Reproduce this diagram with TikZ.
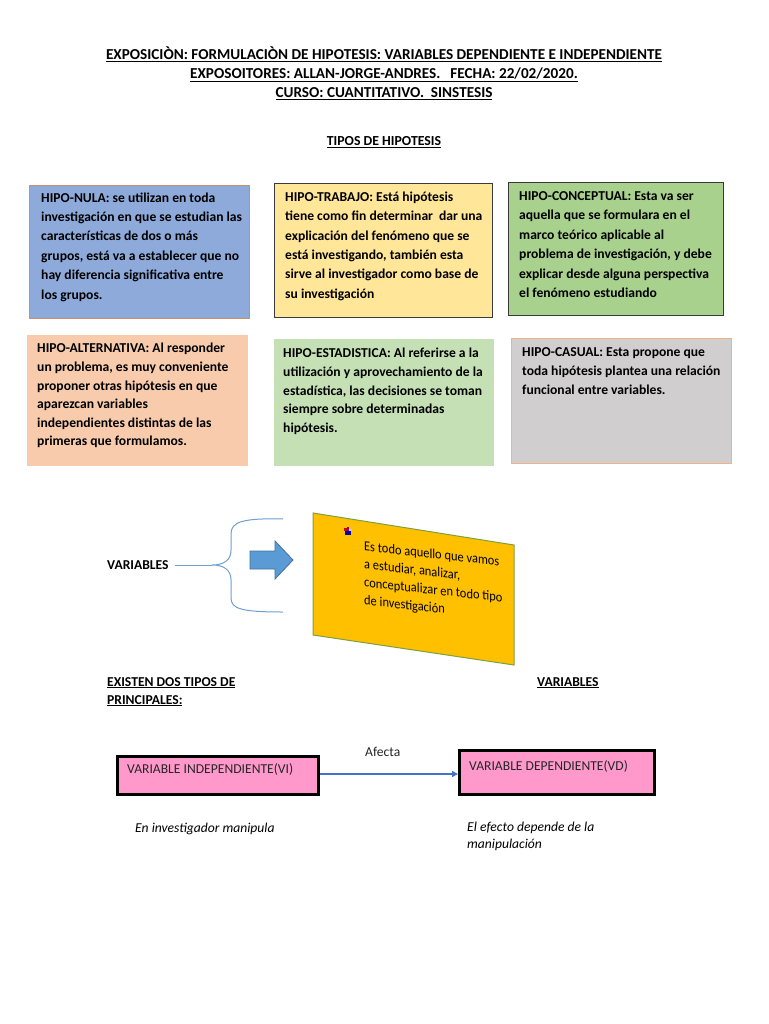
\documentclass[tikz,border=0pt]{standalone}
\usepackage{fontspec}
\setmainfont{Carlito}
\usetikzlibrary{arrows.meta}
\definecolor{cnula}{HTML}{8EAADB}
\definecolor{cnulab}{HTML}{C9906C}
\definecolor{ctrab}{HTML}{FFE699}
\definecolor{cconc}{HTML}{A9D18E}
\definecolor{cdark}{HTML}{3A3A3A}
\definecolor{calt}{HTML}{F8CBAD}
\definecolor{cest}{HTML}{C5E0B4}
\definecolor{ccas}{HTML}{D0CECE}
\definecolor{ccasb}{HTML}{F4B183}
\definecolor{cpara}{HTML}{FFC000}
\definecolor{cparab}{HTML}{7F9F3F}
\definecolor{cbrace}{HTML}{6E9FD0}
\definecolor{carrow}{HTML}{5B9BD5}
\definecolor{carrowb}{HTML}{41719C}
\definecolor{cpink}{HTML}{FF99CC}
\definecolor{cline}{HTML}{4472C4}
\begin{document}
\begin{tikzpicture}[x=1pt,y=-1pt,
  hdr/.style={anchor=base,inner sep=0,font=\fontsize{15.2}{18}\selectfont\bfseries},
  hdrsmall/.style={anchor=base,inner sep=0,font=\fontsize{13.8}{16}\selectfont\bfseries},
  hbox/.style={rectangle,anchor=north west,inner sep=0,line width=1pt},
  btext/.style={anchor=north west,inner sep=0,align=left,text=black},
  rowone/.style={font=\fontsize{13.6}{19.4}\selectfont\bfseries},
  rowtwo/.style={font=\fontsize{13.6}{18.6}\selectfont\bfseries},
  lbl/.style={anchor=base west,inner sep=0,font=\fontsize{13.6}{18}\selectfont\bfseries},
  vbox/.style={rectangle,anchor=north west,inner sep=0,fill=cpink,draw=black,line width=3pt},
  vtext/.style={anchor=base west,inner sep=0,text=black!85,font=\fontsize{13.6}{18}\selectfont},
  itext/.style={anchor=base west,inner sep=0,font=\fontsize{13.6}{17}\selectfont\itshape},
]
\useasboundingbox[fill=white] (0,0) rectangle (768,1024);

% header
\node[hdr] (h1) at (384,60) {\underline{EXPOSICIÒN: FORMULACIÒN DE HIPOTESIS: VARIABLES DEPENDIENTE E INDEPENDIENTE}};
\node[hdr] (h2) at (384,79) {\underline{EXPOSOITORES: ALLAN-JORGE-ANDRES.\hspace{10pt}FECHA: 22/02/2020.}};
\node[hdr] (h3) at (384,98) {\underline{CURSO: CUANTITATIVO.\ \ SINSTESIS}};
\node[hdrsmall] (h4) at (384,146) {\underline{TIPOS DE HIPOTESIS}};

% row 1 boxes
\node[hbox,fill=cnula,draw=cnulab,minimum width=220,minimum height=133] (nula) at (29,185) {};
\node[hbox,fill=ctrab,draw=cdark,minimum width=218,minimum height=134] (trab) at (274,183) {};
\node[hbox,fill=cconc,draw=cdark,minimum width=215,minimum height=133] (conc) at (508,182) {};
\node[btext,rowone] (tnula) at (41,188.4) {\strut HIPO-NULA: se utilizan en toda\\investigación en que se estudian las\\características de dos o más\\grupos, está va a establecer que no\\hay diferencia significativa entre\\los grupos.};
\node[btext,rowone] (ttrab) at (285,187.6) {\strut HIPO-TRABAJO: Está hipótesis\\tiene como fin determinar\ \ dar una\\explicación del fenómeno que se\\está investigando, también esta\\sirve al investigador como base de\\su investigación};
\node[btext,rowone] (tconc) at (519,186.8) {\strut HIPO-CONCEPTUAL: Esta va ser\\aquella que se formulara en el\\marco teórico aplicable al\\problema de investigación, y debe\\explicar desde alguna perspectiva\\el fenómeno estudiando};

% row 2 boxes
\node[hbox,fill=calt,minimum width=221,minimum height=131] (alt) at (26,334) {};
\node[hbox,fill=cest,minimum width=220,minimum height=127] (est) at (273,338) {};
\node[hbox,fill=ccas,draw=ccasb,minimum width=220,minimum height=125] (cas) at (511,338) {};
\node[btext,rowtwo] (talt) at (37,339.6) {\strut HIPO-ALTERNATIVA: Al responder\\un problema, es muy conveniente\\proponer otras hipótesis en que\\aparezcan variables\\independientes distintas de las\\primeras que formulamos.};
\node[btext,rowtwo] (test) at (283,344.6) {\strut HIPO-ESTADISTICA: Al referirse a la\\utilización y aprovechamiento de la\\estadística, las decisiones se toman\\siempre sobre determinadas\\hipótesis.};
\node[btext,rowtwo] (tcas) at (522,343.6) {\strut HIPO-CASUAL: Esta propone que\\toda hipótesis plantea una relación\\funcional entre variables.};

% variables section
\node[lbl] (var) at (107,569) {VARIABLES};
\coordinate (tip) at (212,565);
\draw[cbrace,line width=1pt] (var.east |- 0,565) ++(6,0) coordinate (vstart) -- (tip);
\draw[cbrace,line width=1pt] (283,519) .. controls (242,518) and (231,522) .. (231,534) -- (231,550)
   .. controls (231,560) and (224,565) .. (tip)
   .. controls (224,565) and (231,570) .. (231,580) -- (231,598)
   .. controls (231,609) and (242,612) .. (283,612);
\draw[fill=carrow,draw=carrowb,line width=0.8pt] (250,551) -- (275,551) -- (275,541) -- (293,560) -- (275,579) -- (275,569) -- (250,569) -- cycle;

% parallelogram
\coordinate (p1) at (313,513);
\coordinate (p2) at (514,545);
\coordinate (p3) at (514,665);
\coordinate (p4) at (313,635);
\draw[fill=cpara,draw=cparab,line width=1pt] (p1) -- (p2) -- (p3) -- (p4) -- cycle;
% bullet icon
\fill[blue!70!black] (345,531) rectangle (351,535);
\fill[red!80!black] (344,528) rectangle (347,531);
\fill[violet] (347,527) rectangle (349,531);
\fill[white!60!gray] (349,529) rectangle (352,531);
\node[anchor=north west,inner sep=0,align=left,yslant=-0.11,xscale=0.9,font=\fontsize{13.8}{18}\selectfont] (ptext) at (364,538) {\strut Es todo aquello que vamos\\a estudiar, analizar,\\conceptualizar en todo tipo\\de investigación};

% principal types
\node[lbl] (ex1) at (107,686) {\underline{EXISTEN DOS TIPOS DE}};
\node[lbl] (ex2) at (107,704) {\underline{PRINCIPALES:}};
\node[lbl] (ex3) at (537,686) {\underline{VARIABLES}};

\node[vbox,minimum width=201,minimum height=38] (vi) at (116,755) {};
\node[vbox,minimum width=195,minimum height=44] (vd) at (458,749) {};
\node[vtext] (tvi) at (127,773) {VARIABLE INDEPENDIENTE(VI)};
\node[vtext] (tvd) at (469,770) {VARIABLE DEPENDIENTE(VD)};
\draw[cline,line width=1.4pt,-{Triangle[length=6pt,width=6pt]}] (vi.east |- 0,774) -- (vd.west |- 0,774);
\node[vtext] (afecta) at (365,756) {Afecta};

\node[itext] (i1) at (135,832) {En investigador manipula};
\node[itext,align=left,anchor=north west] (i2) at (467,819) {\strut El efecto depende de la\\manipulación};
\end{tikzpicture}
\end{document}
